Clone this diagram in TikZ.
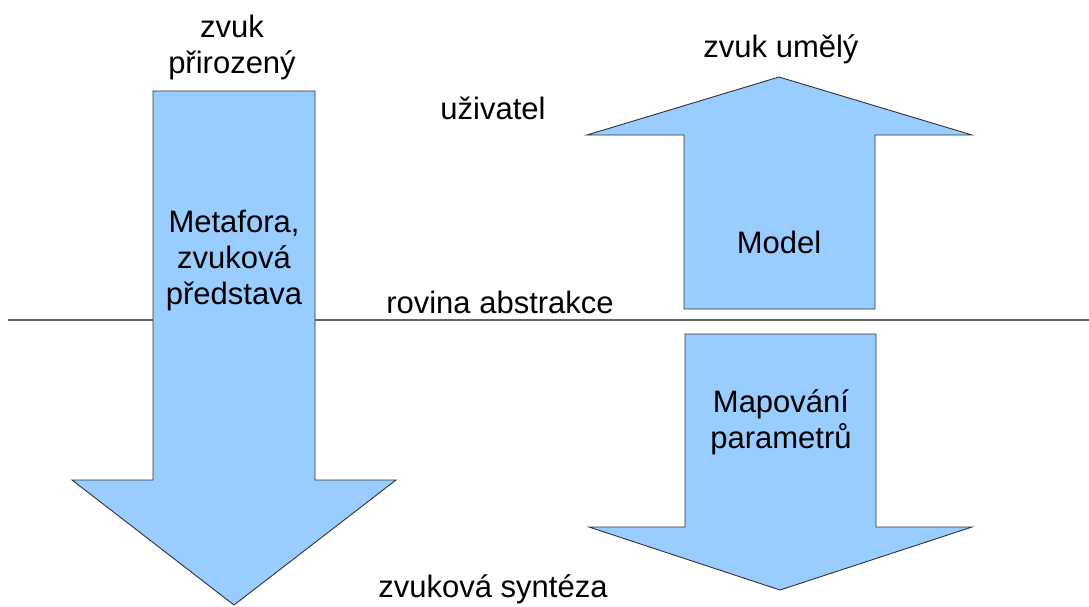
\documentclass[tikz,border=0pt]{standalone}
\usepackage{fontspec}
\setmainfont{Liberation Sans}
\definecolor{arrowfill}{HTML}{99CCFF}
\definecolor{arrowline}{HTML}{333333}
\definecolor{planeline}{HTML}{666666}
\begin{document}
\begin{tikzpicture}[x=1pt,y=-1pt,
  blockarrow/.style={fill=arrowfill,draw=arrowline,line width=0.9pt,line join=miter},
  lbl/.style={inner sep=0pt,anchor=base,font=\fontsize{31}{36}\selectfont,text=black},
  mlbl/.style={lbl,align=center}]
\useasboundingbox (0,0) rectangle (1089,606);
\fill[white] (0,0) rectangle (1089,606);

% abstraction plane
\coordinate (planeL) at (8,320);
\coordinate (planeR) at (1089,320);
\draw[planeline,line width=1.4pt] (planeL) -- (planeR);

% natural sound: long downward arrow
\draw[blockarrow] (153,91) -- (315,91) -- (315,480) -- (396,480) -- (234,605)
  -- (72,480) -- (153,480) -- cycle;

% artificial sound: upward arrow above the plane
\draw[blockarrow] (684,309) -- (684,135) -- (587,135) -- (779,77) -- (972,135)
  -- (875,135) -- (875,309) -- cycle;

% parameter mapping: downward arrow below the plane
\draw[blockarrow] (685,334) -- (876,334) -- (876,527) -- (972,527) -- (780,590)
  -- (589,527) -- (685,527) -- cycle;

% labels (multi-line labels are placed by the baseline of their last line)
\node[mlbl] (natural) at (232,73) {zvuk\\přirozený};
\node[mlbl] (metaphor) at (234,304) {Metafora,\\zvuková\\představa};
\node[lbl] (user) at (493,119) {uživatel};
\node[lbl] (artificial) at (781,57) {zvuk umělý};
\node[lbl] (model) at (779,253) {Model};
\node[lbl] (plane) at (500,313) {rovina abstrakce};
\node[mlbl] (mapping) at (781,448) {Mapování\\parametrů};
\node[lbl] (synthesis) at (493,597) {zvuková syntéza};
\end{tikzpicture}
\end{document}
